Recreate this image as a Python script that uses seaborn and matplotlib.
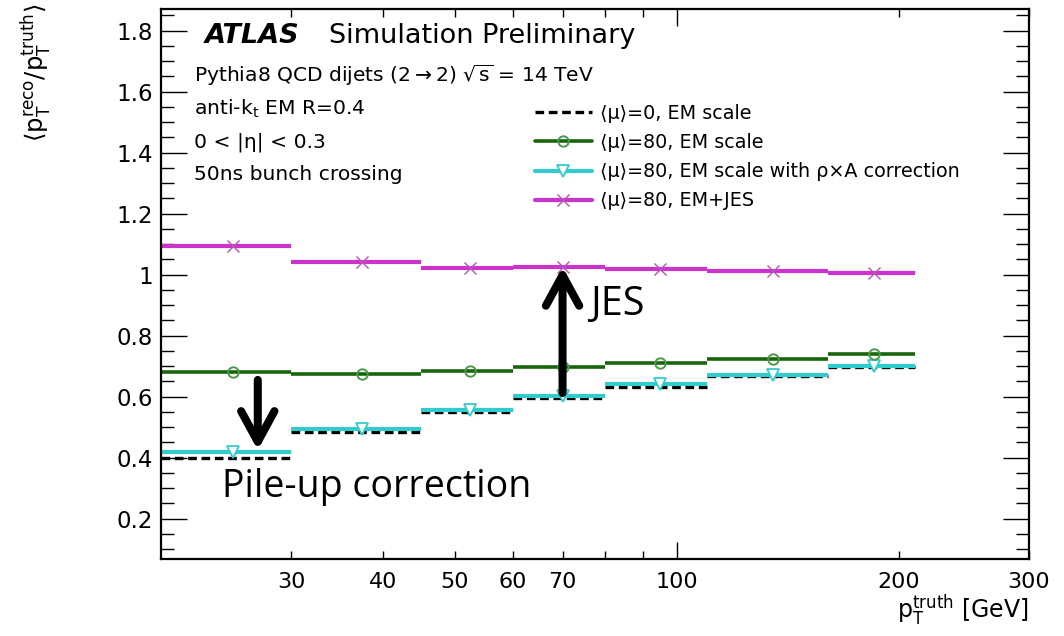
import numpy as np
import pandas as pd
import matplotlib
matplotlib.use("Agg")
import matplotlib.pyplot as plt
from matplotlib.lines import Line2D
from matplotlib.ticker import FixedLocator, FixedFormatter
import seaborn as sns

# ---- data: jet response vs. truth pT ----
bin_edges = [20, 30, 45, 60, 80, 110, 160, 210]
bin_centres = [25, 37.5, 52.5, 70, 95, 135, 185]

resp_mu0_em = [0.398, 0.485, 0.549, 0.596, 0.633, 0.668, 0.698]
resp_mu80_em = [0.680, 0.673, 0.684, 0.698, 0.709, 0.725, 0.739]
resp_mu80_rhoA = [0.420, 0.494, 0.557, 0.603, 0.641, 0.672, 0.702]
resp_mu80_emjes = [1.095, 1.043, 1.021, 1.026, 1.020, 1.012, 1.005]

legend_labels = [
    "⟨μ⟩=0, EM scale",
    "⟨μ⟩=80, EM scale",
    "⟨μ⟩=80, EM scale with ρ×A correction",
    "⟨μ⟩=80, EM+JES",
]

x_tick_values = [30, 40, 50, 60, 70, 80, 90, 200, 300]
x_tick_labels = ["30", "40", "50", "60", "70", "", "", "200", "300"]
y_tick_values = [0.2, 0.4, 0.6, 0.8, 1.0, 1.2, 1.4, 1.6, 1.8]
y_tick_labels = ["0.2", "0.4", "0.6", "0.8", "1", "1.2", "1.4", "1.6", "1.8"]

# ---- style ----
sns.set_theme(style="ticks")
plt.rcParams["font.family"] = ["DejaVu Sans"]
plt.rcParams["mathtext.fontset"] = "dejavusans"
for key in ("text.color", "axes.labelcolor", "xtick.color", "ytick.color",
            "axes.edgecolor"):
    plt.rcParams[key] = "black"

W, H = 1064, 636
fig = plt.figure(figsize=(W / 100, H / 100), dpi=100)
fig.patch.set_facecolor("white")
L, R, T, B = 161, 1029, 9, 559
ax = fig.add_axes([L / W, 1 - B / H, (R - L) / W, (B - T) / H])
ax.set_facecolor("white")

MAGENTA = "#cc33cc"
GREEN = "#17660a"
CYAN = "#33cccc"


def bin_frame(values):
    """One short horizontal segment per bin (no vertical connectors)."""
    rows = []
    for i, v in enumerate(values):
        rows.append((i, bin_edges[i], v))
        rows.append((i, bin_edges[i + 1], v))
    return pd.DataFrame(rows, columns=["bin", "pt", "r"])


def draw_bins(values, color, lw, **kw):
    sns.lineplot(data=bin_frame(values), x="pt", y="r", units="bin", ax=ax,
                 color=color, lw=lw, estimator=None, sort=False,
                 solid_capstyle="butt", **kw)


def draw_markers(values, marker, color, size, mew, face="none"):
    df = pd.DataFrame({"pt": bin_centres, "r": values})
    sns.lineplot(data=df, x="pt", y="r", ax=ax, linestyle="", marker=marker,
                 markersize=size, markerfacecolor=face, markeredgecolor=color,
                 markeredgewidth=mew, color=color, estimator=None, sort=False)


# <mu>=0 dashed reference
draw_bins(resp_mu0_em, "black", 2.4, dashes=(2.6, 1.4))
# rho x A corrected
draw_bins(resp_mu80_rhoA, CYAN, 3.0)
draw_markers(resp_mu80_rhoA, "v", CYAN, 8.5, 1.3, face="white")
# EM scale, mu=80
draw_bins(resp_mu80_em, GREEN, 2.6)
draw_markers(resp_mu80_em, "o", "#4a9a4a", 7.5, 1.4)
# EM+JES
draw_bins(resp_mu80_emjes, MAGENTA, 3.0)
draw_markers(resp_mu80_emjes, "x", "#b555b5", 8, 1.0)

# ---- axes ----
ax.set_xscale("log")
ax.set_xlim(20, 300)
ax.set_ylim(0.068, 1.871)
ax.set_xlabel("")
ax.set_ylabel("")

ax.xaxis.set_major_locator(FixedLocator([100]))
ax.xaxis.set_major_formatter(FixedFormatter(["100"]))
ax.xaxis.set_minor_locator(FixedLocator(x_tick_values))
ax.xaxis.set_minor_formatter(FixedFormatter(x_tick_labels))

ax.yaxis.set_major_locator(FixedLocator(y_tick_values))
ax.yaxis.set_major_formatter(FixedFormatter(y_tick_labels))
ax.yaxis.set_minor_locator(FixedLocator(np.arange(0.1, 1.86, 0.05)))

ax.tick_params(axis="both", which="both", direction="in", top=True,
               right=True, color="black")
ax.tick_params(axis="y", which="major", length=19, width=1.0, labelsize=16.5,
               pad=6)
ax.tick_params(axis="y", which="minor", length=9.5, width=1.0)
ax.tick_params(axis="x", which="major", length=12, width=1.0, labelsize=16,
               pad=9)
ax.tick_params(axis="x", which="minor", length=6, width=1.0, labelsize=16,
               pad=9)
for side, sp in ax.spines.items():
    sp.set_color("black")
    sp.set_linewidth(1.6)

# axis titles
fig.text(36 / W, 1 - 3 / H,
         r"$\langle\mathrm{p}_{\mathrm{T}}^{\mathrm{reco}}/"
         r"\mathrm{p}_{\mathrm{T}}^{\mathrm{truth}}\rangle$",
         rotation=90, ha="center", va="top", fontsize=17.5)
fig.text(R / W, 1 - 610 / H,
         r"$\mathrm{p}_{\mathrm{T}}^{\mathrm{truth}}$ [GeV]",
         ha="right", va="center", fontsize=17)

# ---- labels on the plot ----
fig.text(205 / W, 1 - 43 / H, "ATLAS", fontsize=19.5, weight="bold",
         style="italic", va="baseline")
fig.text(329 / W, 1 - 43 / H, "Simulation Preliminary", fontsize=19.5,
         va="baseline")
info = [
    (82, r"Pythia8 QCD dijets (2$\rightarrow$2) $\sqrt{\mathrm{s}}$ = 14 TeV"),
    (115, r"anti-k$_{\mathrm{t}}$ EM R=0.4"),
    (148, "0 < |η| < 0.3"),
    (180, "50ns bunch crossing"),
]
for yb, txt in info:
    fig.text(194 / W, 1 - yb / H, txt, fontsize=14.6, va="baseline")

# legend
handles = [
    Line2D([], [], color="black", lw=2.4, dashes=(2.6, 1.4)),
    Line2D([], [], color=GREEN, lw=2.6, marker="o", markersize=7.5,
           markerfacecolor="none", markeredgecolor="#4a9a4a",
           markeredgewidth=1.4),
    Line2D([], [], color=CYAN, lw=3.0, marker="v", markersize=8.5,
           markerfacecolor="white", markeredgecolor=CYAN, markeredgewidth=1.3),
    Line2D([], [], color=MAGENTA, lw=3.0, marker="x", markersize=8,
           markeredgecolor="#b555b5", markeredgewidth=1.0),
]
ax.legend(handles, legend_labels, loc="upper left",
          bbox_to_anchor=(535 / W, 1 - 104 / H),
          bbox_transform=fig.transFigure, frameon=False, fontsize=13.8,
          handlelength=2.95, handletextpad=0.42, labelspacing=0.53,
          borderpad=0, borderaxespad=0, markerscale=1.0)

# ---- correction arrows ----
arrow_style = "->,head_length=1.1,head_width=0.6"
ax.annotate("", xy=(27.05, 0.425), xytext=(27.05, 0.655),
            arrowprops=dict(arrowstyle=arrow_style, lw=5.8, color="black",
                            shrinkA=0, shrinkB=0, mutation_scale=20))
ax.annotate("", xy=(70, 1.026), xytext=(70, 0.612),
            arrowprops=dict(arrowstyle=arrow_style, lw=5.8, color="black",
                            shrinkA=0, shrinkB=0, mutation_scale=20))
fig.text(590 / W, 1 - 315 / H, "JES", fontsize=28.5, family="Open Sans",
         va="baseline")
fig.text(222 / W, 1 - 497 / H, "Pile-up correction", fontsize=27,
         family="Open Sans", va="baseline")

fig.savefig("out.png", dpi=100, facecolor="white")
